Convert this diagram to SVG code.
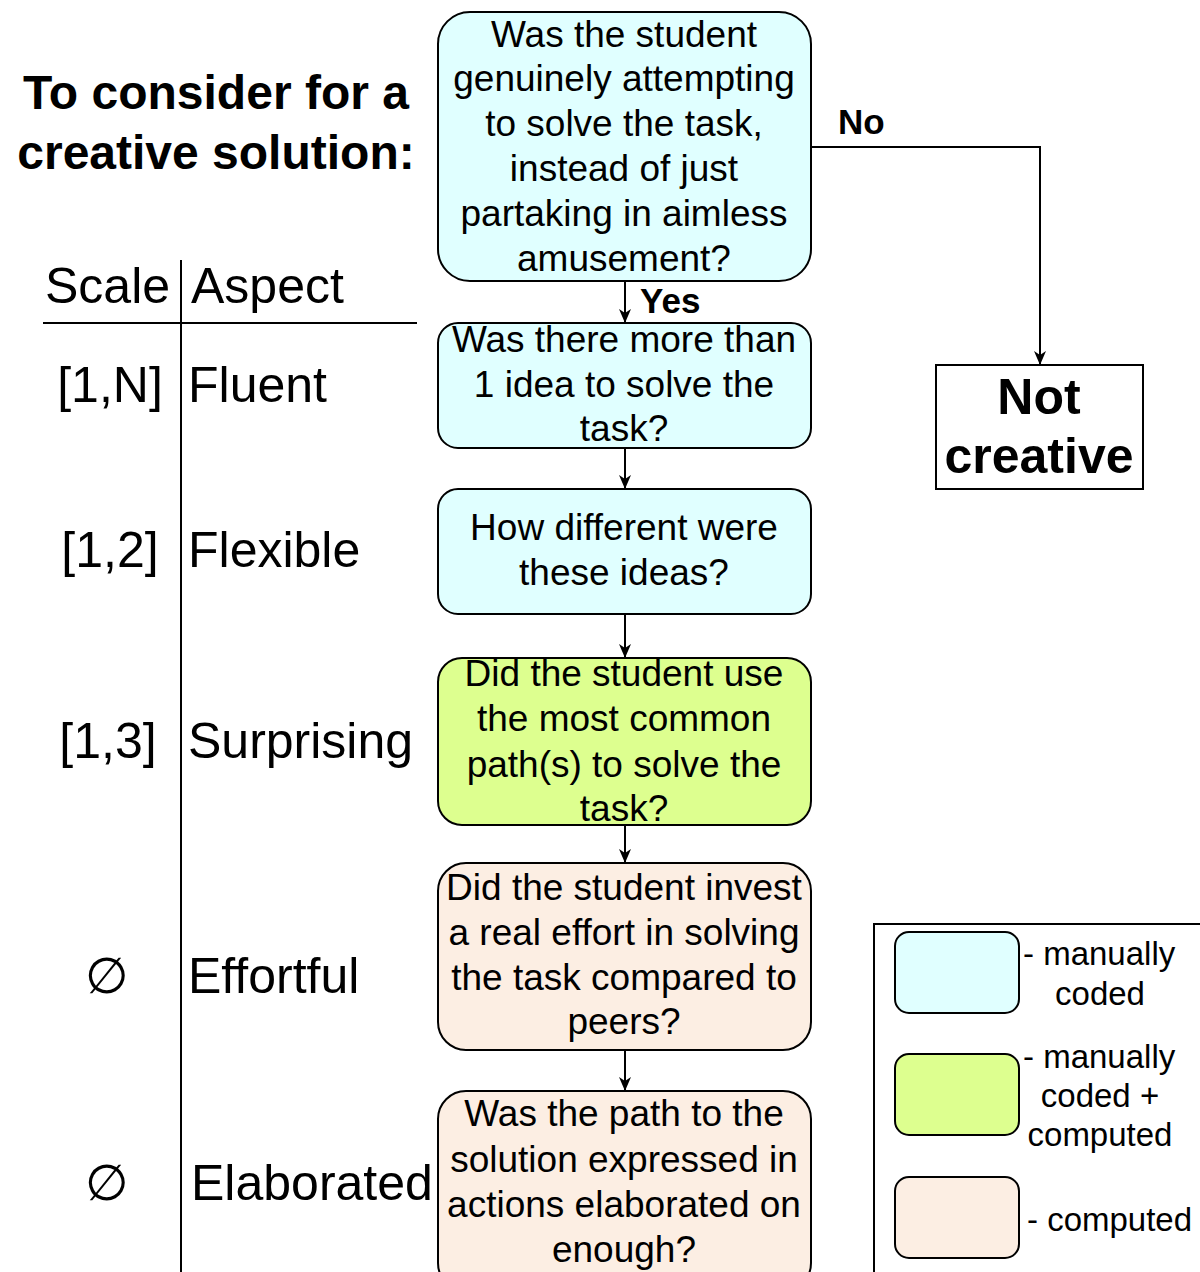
<svg xmlns="http://www.w3.org/2000/svg" width="1200" height="1272" viewBox="0 0 1200 1272">
<defs>
<marker id="arr" viewBox="0 0 14 12" refX="13" refY="6" markerWidth="14" markerHeight="12" markerUnits="userSpaceOnUse" orient="auto"><path d="M0,0 L14,6 L0,12 L4,6 Z" fill="#000"/></marker>
<style>
text{font-family:"Liberation Sans",Arial,sans-serif;fill:#000}
.q{font-size:37px;text-anchor:middle}
.box{stroke:#000;stroke-width:2}
.cyan{fill:#E0FFFF}
.green{fill:#DDFF8F}
.peach{fill:#FCEEE3}
.big{font-size:50px}
.ttl{font-size:48px;font-weight:bold;text-anchor:middle}
.b{font-weight:bold}
.leg{font-size:33px}
.ln{stroke:#000;stroke-width:2;fill:none}
</style>
</defs>
<rect width="1200" height="1272" fill="#fff"/>
<g id="title">
<text class="ttl" x="216" y="109">To consider for a</text>
<text class="ttl" x="216" y="169">creative solution:</text>
</g>
<g id="table">
<line class="ln" x1="43" y1="323" x2="417" y2="323"/>
<line class="ln" x1="181" y1="260" x2="181" y2="1272"/>
<text class="big" x="45" y="303">Scale</text>
<text class="big" x="191" y="303">Aspect</text>
<text class="big" x="110" y="402" text-anchor="middle">[1,N]</text>
<text class="big" x="188" y="402">Fluent</text>
<text class="big" x="110" y="567" text-anchor="middle">[1,2]</text>
<text class="big" x="188" y="567">Flexible</text>
<text class="big" x="108" y="758" text-anchor="middle">[1,3]</text>
<text class="big" x="188" y="758">Surprising</text>
<text class="big" x="107" y="993" text-anchor="middle">∅</text>
<text class="big" x="188" y="993">Effortful</text>
<text class="big" x="107" y="1200" text-anchor="middle">∅</text>
<text class="big" x="191" y="1200">Elaborated</text>
</g>
<g id="connectors">
<line class="ln" x1="625" y1="281" x2="625" y2="322" marker-end="url(#arr)"/>
<line class="ln" x1="625" y1="448" x2="625" y2="488" marker-end="url(#arr)"/>
<line class="ln" x1="625" y1="614" x2="625" y2="657" marker-end="url(#arr)"/>
<line class="ln" x1="625" y1="825" x2="625" y2="862" marker-end="url(#arr)"/>
<line class="ln" x1="625" y1="1050" x2="625" y2="1090" marker-end="url(#arr)"/>
<polyline class="ln" points="811,147 1040,147 1040,364" marker-end="url(#arr)"/>
<text x="640" y="313" font-size="35" font-weight="bold">Yes</text>
<text x="838" y="134" font-size="35" font-weight="bold">No</text>
</g>
<g id="n1">
<rect class="box cyan" x="438" y="12" width="373" height="269" rx="32"/>
<text class="q" x="624" y="47">Was the student</text>
<text class="q" x="624" y="91">genuinely attempting</text>
<text class="q" x="624" y="136">to solve the task,</text>
<text class="q" x="624" y="181">instead of just</text>
<text class="q" x="624" y="226">partaking in aimless</text>
<text class="q" x="624" y="271">amusement?</text>
</g>
<g id="n2">
<rect class="box cyan" x="438" y="323" width="373" height="125" rx="20"/>
<text class="q" x="624" y="352">Was there more than</text>
<text class="q" x="624" y="397">1 idea to solve the</text>
<text class="q" x="624" y="441">task?</text>
</g>
<g id="n3">
<rect class="box cyan" x="438" y="489" width="373" height="125" rx="20"/>
<text class="q" x="624" y="540">How different were</text>
<text class="q" x="624" y="585">these ideas?</text>
</g>
<g id="n4">
<rect class="box green" x="438" y="658" width="373" height="167" rx="24"/>
<text class="q" x="624" y="686">Did the student use</text>
<text class="q" x="624" y="731">the most common</text>
<text class="q" x="624" y="777">path(s) to solve the</text>
<text class="q" x="624" y="821">task?</text>
</g>
<g id="n5">
<rect class="box peach" x="438" y="863" width="373" height="187" rx="28"/>
<text class="q" x="624" y="900">Did the student invest</text>
<text class="q" x="624" y="945">a real effort in solving</text>
<text class="q" x="624" y="990">the task compared to</text>
<text class="q" x="624" y="1034">peers?</text>
</g>
<g id="n6">
<rect class="box peach" x="438" y="1091" width="373" height="200" rx="28"/>
<text class="q" x="624" y="1126">Was the path to the</text>
<text class="q" x="624" y="1172">solution expressed in</text>
<text class="q" x="624" y="1217">actions elaborated on</text>
<text class="q" x="624" y="1262">enough?</text>
</g>
<g id="notcreative">
<rect x="936" y="365" width="207" height="124" fill="#fff" stroke="#000" stroke-width="2"/>
<text class="big b" x="1039" y="414" text-anchor="middle">Not</text>
<text class="big b" x="1039" y="473" text-anchor="middle">creative</text>
</g>
<g id="legend">
<rect x="874" y="924" width="340" height="360" fill="#fff" stroke="#000" stroke-width="2"/>
<rect class="box cyan" x="895" y="932" width="124" height="81" rx="14"/>
<rect class="box green" x="895" y="1054" width="124" height="81" rx="14"/>
<rect class="box peach" x="895" y="1177" width="124" height="81" rx="14"/>
<text class="leg" x="1023" y="965">- manually</text>
<text class="leg" x="1100" y="1005" text-anchor="middle">coded</text>
<text class="leg" x="1023" y="1068">- manually</text>
<text class="leg" x="1100" y="1107" text-anchor="middle">coded +</text>
<text class="leg" x="1100" y="1146" text-anchor="middle">computed</text>
<text class="leg" x="1027" y="1231">- computed</text>
</g>
</svg>
